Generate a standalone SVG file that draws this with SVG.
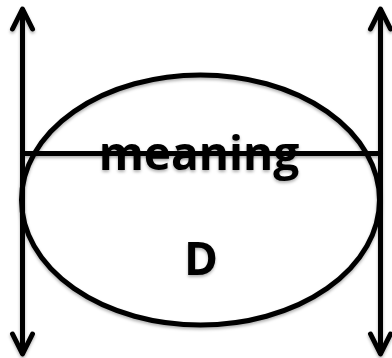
<svg xmlns="http://www.w3.org/2000/svg" width="392" height="358" viewBox="0 0 392 358">
<style>
.s{fill:none;stroke:#000;stroke-width:5;stroke-linecap:round;stroke-linejoin:round}
.t{font-family:"Open Sans","Liberation Sans",sans-serif;font-weight:bold;fill:#000;text-anchor:middle}
</style>
<defs>
<filter id="sh" x="-10%" y="-10%" width="120%" height="130%">
<feDropShadow dx="0" dy="2" stdDeviation="1.5" flood-color="#000" flood-opacity="0.3"/>
</filter>
</defs>
<g id="ellipse" filter="url(#sh)">
<ellipse cx="200.5" cy="200" rx="179" ry="125" class="s"/>
</g>
<g id="connectors" filter="url(#sh)">
<line x1="22.5" y1="10" x2="22.5" y2="353" class="s"/>
<path d="M12.5 29 L22.5 9 L32.5 29 M12.5 334 L22.5 354 L32.5 334" class="s"/>
<line x1="380.5" y1="10" x2="380.5" y2="353" class="s"/>
<path d="M370.5 29 L380.5 9 L390.5 29 M370.5 334 L380.5 354 L390.5 334" class="s"/>
<line x1="22.5" y1="153.5" x2="380.5" y2="153.5" class="s"/>
</g>
<g id="label-meaning" filter="url(#sh)">
<text x="199" y="170" class="t" font-size="46">meaning</text>
</g>
<g id="label-D" filter="url(#sh)">
<text x="201" y="275" class="t" font-size="46">D</text>
</g>
</svg>
